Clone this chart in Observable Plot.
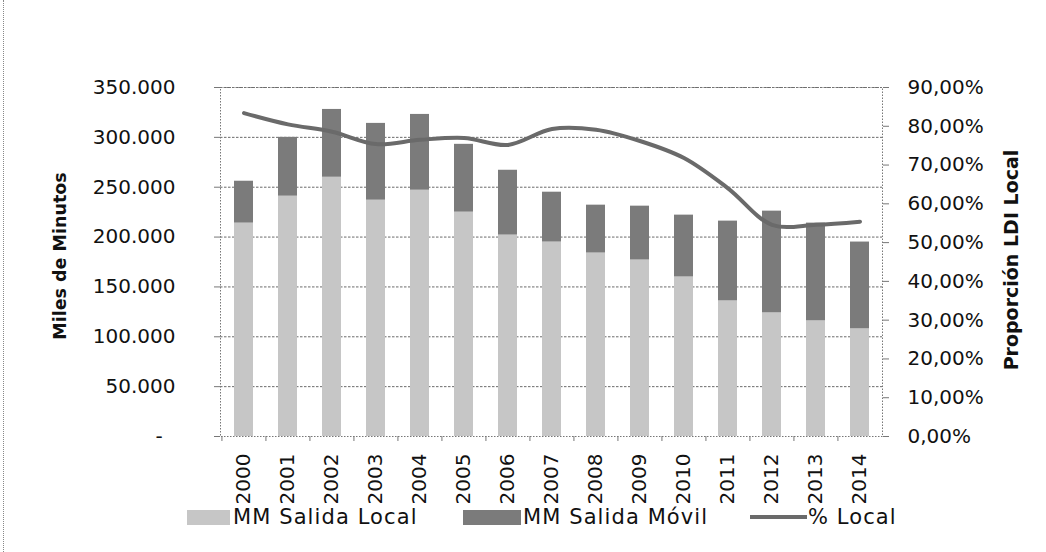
<!DOCTYPE html>
<html><head><meta charset="utf-8">
<script src="https://cdn.jsdelivr.net/npm/d3@7"></script>
<script src="https://cdn.jsdelivr.net/npm/@observablehq/plot@0.6"></script>
<style>
body{margin:0;background:#fff;}
#wrap{position:relative;width:1046px;height:552px;overflow:hidden;font-family:"DejaVu Sans",sans-serif;color:#111;}
#border{position:absolute;left:3px;top:0;width:0;height:552px;border-left:1px dotted #888;}
.sw{position:absolute;}
.lt{position:absolute;font-size:21px;letter-spacing:1.1px;line-height:24px;white-space:nowrap;}
</style></head><body>
<div id="wrap"><div id="chart"></div><div id="border"></div><div id="legend"></div></div>
<script>
// ---- data ----
const years = ["2000","2001","2002","2003","2004","2005","2006","2007","2008","2009","2010","2011","2012","2013","2014"];
const salidaLocal = [214000,241000,260000,237000,247000,225000,202000,195000,184000,177000,160000,136000,124000,116000,108000];
const salidaMovil = [42000,59000,68000,77000,76000,68000,65000,50000,48000,54000,62000,80000,102000,98000,87000];
const pctLocal = [83.4,80.5,78.6,75.4,76.5,77.0,75.2,79.3,79.1,76.2,71.8,64.0,54.6,54.6,55.4];
const leftTicks = [0,50000,100000,150000,200000,250000,300000,350000];
const rightTicks = [0,10,20,30,40,50,60,70,80,90];
const seriesNames = ["MM Salida Local","MM Salida Móvil","% Local"];
const leftTitle = "Miles de Minutos";
const rightTitle = "Proporción LDI Local";

// ---- build ----
const yMax = 350000, pMax = 90;
const toLeft = p => p * yMax / pMax;
const colors = ["#c6c6c6", "#7b7b7b", "#6a6a6a"];

const stacked = [];
years.forEach((y, i) => {
  stacked.push({year: y, series: seriesNames[0], value: salidaLocal[i]});
  stacked.push({year: y, series: seriesNames[1], value: salidaMovil[i]});
});
const lineData = years.map((y, i) => ({year: y, p: pctLocal[i]}));

const W = 1046, H = 500, mL = 220, mR = 164, mT = 87, mB = 64;
const step = (W - mL - mR) / years.length;
const fmtThousands = d => d === 0 ? "-\u00a0\u00a0" : d3.format(",")(d).replace(/,/g, ".");
const fmtPct = d => (d * pMax / yMax).toFixed(2).replace(".", ",") + "%";

const chart = Plot.plot({
  width: W, height: H,
  marginLeft: mL, marginRight: mR, marginTop: mT, marginBottom: mB,
  style: {fontFamily: "DejaVu Sans, sans-serif", fontSize: "20px", color: "#111", background: "white", overflow: "visible"},
  x: {domain: years, paddingInner: 0.57, paddingOuter: 0.285, axis: null},
  y: {domain: [0, yMax], axis: null},
  color: {domain: seriesNames.slice(0, 2), range: colors.slice(0, 2)},
  marks: [
    Plot.ruleY(leftTicks.slice(1), {stroke: "#6a6a6a", strokeDasharray: "2.5,1.5", strokeWidth: 1}),
    Plot.barY(stacked, {x: "year", y: "value", fill: "series"}),
    Plot.frame({stroke: "#777", strokeDasharray: "1.5,1.5"}),
    Plot.axisY({ticks: leftTicks, tickFormat: fmtThousands, tickSize: 6, tickPadding: 39, label: null, stroke: "#777"}),
    Plot.axisY({anchor: "right", ticks: rightTicks.map(toLeft), tickFormat: fmtPct, tickSize: 6, tickPadding: 19, label: null, stroke: "#777"}),
    Plot.axisX({ticks: years, tickSize: 5, tickFormat: () => "", dx: -step / 2, label: null, stroke: "#777"}),
    Plot.axisX({ticks: years, tickRotate: -90, tickSize: 0, tickPadding: 17, label: null}),
    Plot.line(lineData, {x: "year", y: d => toLeft(d.p), curve: "catmull-rom", stroke: colors[2], strokeWidth: 4}),
    Plot.text([leftTitle], {frameAnchor: "left", dx: -160, dy: -6, rotate: -90, textAnchor: "middle", text: d => d, fontWeight: "bold", fontSize: 17.5, fill: "#111"}),
    Plot.text([rightTitle], {frameAnchor: "right", dx: 129, dy: -2, rotate: -90, textAnchor: "middle", text: d => d, fontWeight: "bold", fontSize: 19, fill: "#111"})
  ]
});
document.getElementById("chart").appendChild(chart);

// ---- legend ----
const lg = document.getElementById("legend");
const items = [
  {sw: [187, 510, 43, 15], tx: 233},
  {sw: [463, 510, 58, 15], tx: 523},
  {sw: [750, 515, 57, 4], tx: 808}
];
items.forEach((it, i) => {
  const s = document.createElement("div");
  s.className = "sw";
  s.style.left = it.sw[0] + "px"; s.style.top = it.sw[1] + "px";
  s.style.width = it.sw[2] + "px"; s.style.height = it.sw[3] + "px";
  s.style.background = colors[i];
  lg.appendChild(s);
  const t = document.createElement("div");
  t.className = "lt";
  t.style.left = it.tx + "px"; t.style.top = "505px";
  t.textContent = seriesNames[i];
  lg.appendChild(t);
});
</script>
</body></html>
